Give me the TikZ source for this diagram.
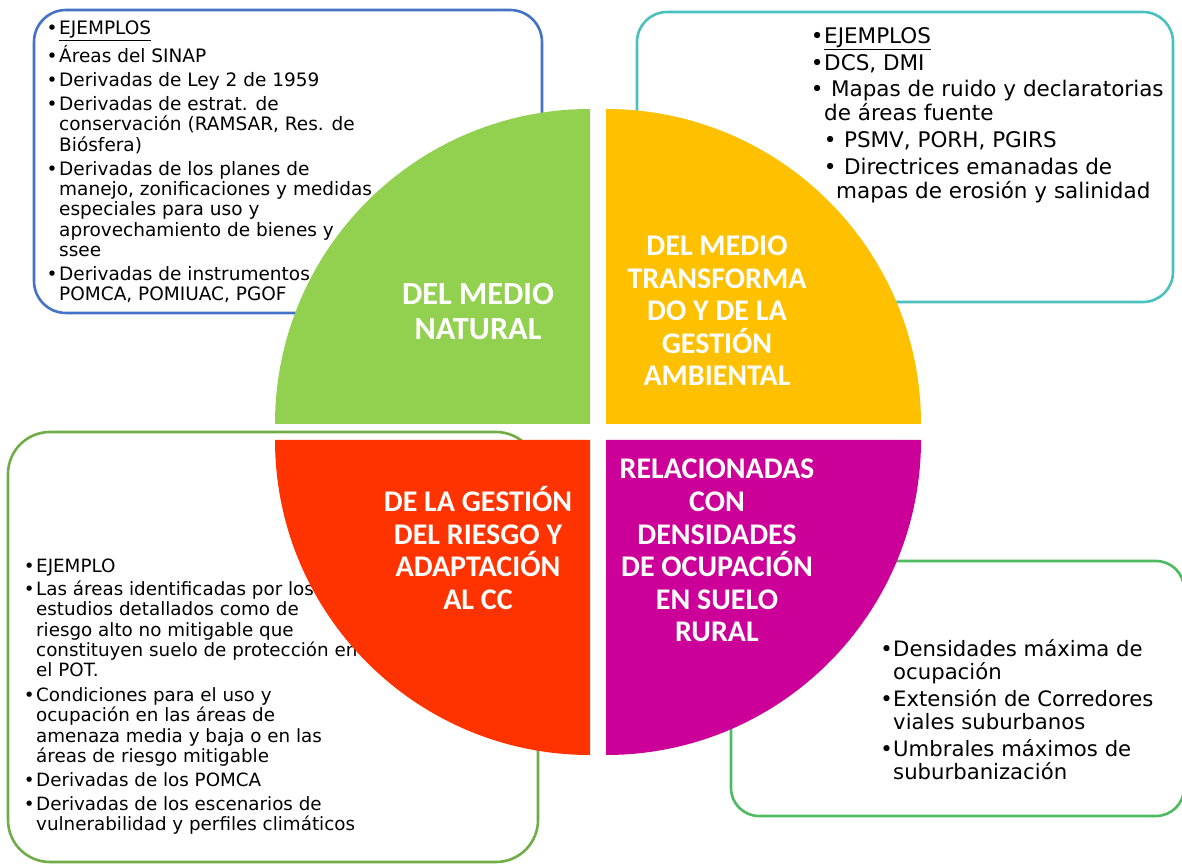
\documentclass[tikz,border=0pt]{standalone}
\usepackage{fontspec}
\setmainfont{DejaVu Sans}
\newfontfamily\labfont{Carlito}
\definecolor{qgreen}{HTML}{92D050}
\definecolor{qyellow}{HTML}{FFC000}
\definecolor{qred}{HTML}{FF3300}
\definecolor{qmag}{HTML}{CC0099}
\definecolor{bblue}{HTML}{4472C4}
\definecolor{bteal}{HTML}{4BC1BE}
\definecolor{bgreen}{HTML}{70AD47}
\definecolor{bgreentwo}{HTML}{4DBB5F}
\newcommand{\bul}[1]{\makebox[#1pt][c]{•}}
\newcommand{\ind}[1]{\hspace*{#1pt}}
\begin{document}
\begin{tikzpicture}[x=1pt,y=1pt,
  framebox/.style={line width=2.6pt},
  qlabel/.style={text=white, font=\labfont\bfseries\fontsize{30pt}{32.6pt}\selectfont, align=center, anchor=base, inner sep=0pt},
  txt/.style={anchor=base west, align=left, inner sep=0pt, text=black}
]
\useasboundingbox (0,0) rectangle (1182,864);
\fill[white] (0,0) rectangle (1182,864);

% boxes
\draw[framebox, draw=bblue, rounded corners=32pt] (34,551) rectangle (542,854);
\draw[framebox, draw=bteal, rounded corners=30pt] (637,562) rectangle (1173,852);
\draw[framebox, draw=bgreen, rounded corners=42pt] (8,2) rectangle (538,432);
\draw[framebox, draw=bgreentwo, rounded corners=28pt] (731,48) rectangle (1184,303);

% box texts (anchor base = baseline of last line)
\node[txt, font=\fontsize{18.5pt}{20.3pt}\selectfont] (tl) at (45,563) {%
\bul{14}\underline{EJEMPLOS}\\[3.8pt]
\bul{14}Áreas del SINAP\\[3.8pt]
\bul{14}Derivadas de Ley 2 de 1959\\[3.8pt]
\bul{14}Derivadas de estrat. de\\
\ind{14}conservación (RAMSAR, Res. de\\
\ind{14}Biósfera)\\[3.8pt]
\bul{14}Derivadas de los planes de\\
\ind{14}manejo, zonificaciones y medidas\\
\ind{14}especiales para uso y\\
\ind{14}aprovechamiento de bienes y\\
\ind{14}ssee\\[3.8pt]
\bul{14}Derivadas de instrumentos\\
\ind{14}POMCA, POMIUAC, PGOF};

\node[txt, font=\fontsize{21.5pt}{24pt}\selectfont] (tr) at (810,665) {%
\bul{14}\underline{EJEMPLOS}\\[2.7pt]
\bul{14}DCS, DMI\\[2.7pt]
\bul{14} Mapas de ruido y declaratorias\\
\ind{14}de áreas fuente\\[3pt]
\ind{13}\bul{14} PSMV, PORH, PGIRS\\[3pt]
\ind{13}\bul{14} Directrices emanadas de\\
\ind{26}mapas de erosión y salinidad};

\node[txt, font=\fontsize{18.3pt}{20.3pt}\selectfont] (bl) at (22,33.3) {%
\bul{14}EJEMPLO\\[3pt]
\bul{14}Las áreas identificadas por los\\
\ind{14}estudios detallados como de\\
\ind{14}riesgo alto no mitigable que\\
\ind{14}constituyen suelo de protección en\\
\ind{14}el POT.\\[4.3pt]
\bul{14}Condiciones para el uso y\\
\ind{14}ocupación en las áreas de\\
\ind{14}amenaza media y baja o en las\\
\ind{14}áreas de riesgo mitigable\\[3.7pt]
\bul{14}Derivadas de los POMCA\\[3.7pt]
\bul{14}Derivadas de los escenarios de\\
\ind{14}vulnerabilidad y perfiles climáticos};

\node[txt, font=\fontsize{21.2pt}{23pt}\selectfont] (br) at (880,84.7) {%
\bul{13}Densidades máxima de\\
\ind{13}ocupación\\[3.7pt]
\bul{13}Extensión de Corredores\\
\ind{13}viales suburbanos\\[3.7pt]
\bul{13}Umbrales máximos de\\
\ind{13}suburbanización};

% quadrants
\fill[qgreen] (590,440) -- ++(-315,0) arc[start angle=180, end angle=90, radius=315] -- cycle;
\fill[qyellow] (606,440) -- ++(0,315) arc[start angle=90, end angle=0, radius=315] -- cycle;
\fill[qred] (590,424) -- ++(-315,0) arc[start angle=180, end angle=270, radius=315] -- cycle;
\fill[qmag] (606,424) -- ++(315,0) arc[start angle=0, end angle=-90, radius=315] -- cycle;

% labels (anchor base = baseline of last line)
\node[qlabel, font=\labfont\bfseries\fontsize{32.3pt}{34.5pt}\selectfont] (lnat) at (478,524.5) {DEL MEDIO\\NATURAL};
\node[qlabel] (ltra) at (717,478) {DEL MEDIO\\TRANSFORMA\\DO Y DE LA\\GESTIÓN\\AMBIENTAL};
\node[qlabel] (lrie) at (478,254.5) {DE LA GESTIÓN\\DEL RIESGO Y\\ADAPTACIÓN\\AL CC};
\node[qlabel] (lden) at (717,222) {RELACIONADAS\\CON\\DENSIDADES\\DE OCUPACIÓN\\EN SUELO\\RURAL};
\end{tikzpicture}
\end{document}
